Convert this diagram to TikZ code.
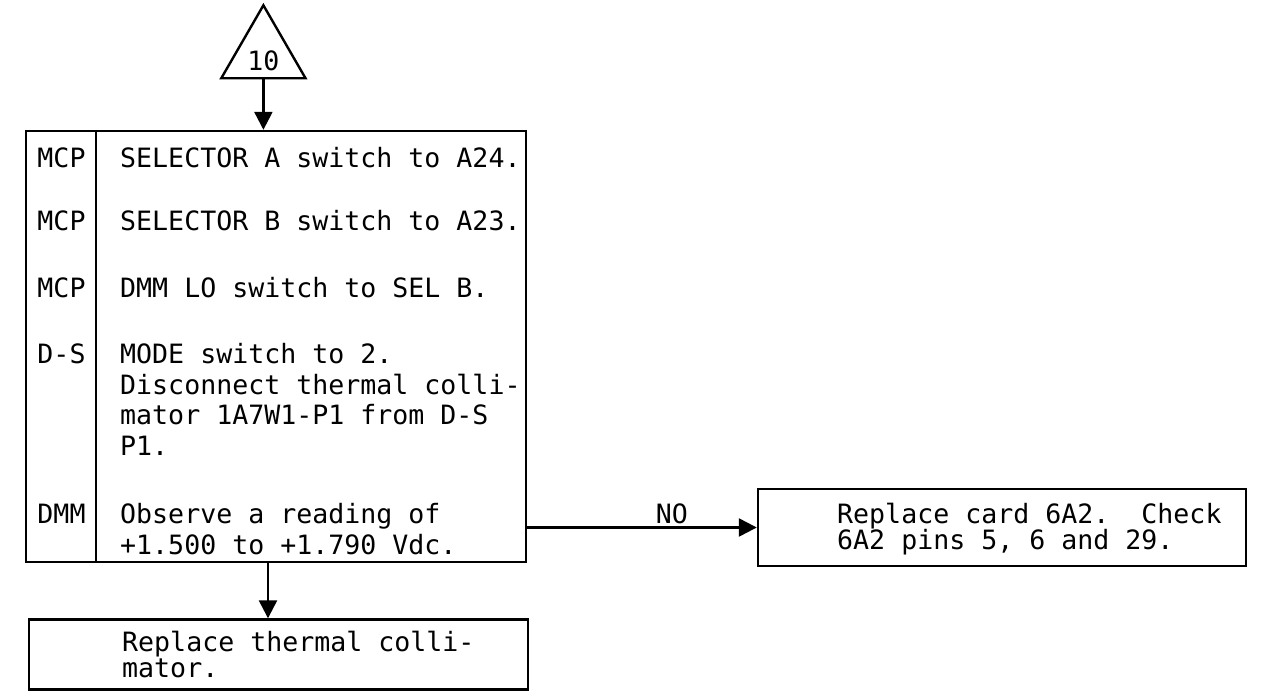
\documentclass[tikz,border=0pt]{standalone}
\usepackage{fontspec}
\newfontfamily\typer{DejaVu Sans Mono}
\usetikzlibrary{shapes.geometric,arrows.meta}

\newcommand\stepfont{\typer\fontsize{13.3pt}{15.2pt}\selectfont}
\newcommand\tightfont{\typer\fontsize{13.3pt}{13pt}\selectfont}

\tikzset{
  box/.style={draw, rectangle, inner sep=0pt},
  who/.style={anchor=base, inner sep=0pt},
  steptext/.style={anchor=base west, inner sep=0pt, align=left},
  tight/.style={font=\tightfont},
  flow/.style={-{Triangle[length=9pt,width=9pt]}},
}

\begin{document}
\lineskiplimit-20pt
\begin{tikzpicture}[x=0.5pt, y=-0.5pt, line width=1.2pt, font=\stepfont]
\useasboundingbox (0,0) rectangle (1271,691);

% entry point
\node[draw, regular polygon, regular polygon sides=3, minimum size=47pt,
  inner sep=0pt, text height=17pt] (ten) at (263.4,53.9) {10};

% main step box
\node[box, minimum width=250pt, minimum height=215.5pt] (steps) at (276,346.5) {};
\draw ([xshift=35.5pt]steps.north west) -- ([xshift=35.5pt]steps.south west);

\node[who] (mcpa) at (61.5,167) {MCP};
\node[who] (mcpb) at (61.5,230) {MCP};
\node[who] (mcpc) at (61.5,297) {MCP};
\node[who] (ds)   at (61.5,363) {D-S};
\node[who] (dmm)  at (61.5,523) {DMM};

% (base of a multi-line node = its last line)
\node[steptext] (sela)    at (119,167) {SELECTOR A switch to A24.};
\node[steptext] (selb)    at (119,230) {SELECTOR B switch to A23.};
\node[steptext] (dmmlo)   at (119,297) {DMM LO switch to SEL B.};
\node[steptext] (mode)    at (119,455) {MODE switch to 2.\\Disconnect thermal colli-\\mator 1A7W1-P1 from D-S\\P1.};
\node[steptext] (observe) at (119,554) {Observe a reading of\\+1.500 to +1.790 Vdc.};

% outcomes
\node[box, minimum width=249.5pt, minimum height=35pt] (collim) at (278.5,654.5) {};
\node[steptext, tight] (collimtext) at (121,677) {Replace thermal colli-\\mator.};

\node[box, minimum width=244pt, minimum height=38.5pt] (nobox) at (1002,527.5) {};
\node[steptext, tight] (noboxtext) at (836,549) {Replace card 6A2.\ \ Check\\6A2 pins 5, 6 and 29.};

% connectors
\draw[flow] (ten.south) -- (ten.south |- steps.north);
\draw[flow] ([xshift=-4pt]steps.south) -- ([xshift=-4pt]steps.south |- collim.north);
\draw[flow] (nobox.west -| steps.east) -- node[pos=0.63, above, inner sep=1pt] (nolabel) {NO} (nobox.west);
\end{tikzpicture}
\end{document}
